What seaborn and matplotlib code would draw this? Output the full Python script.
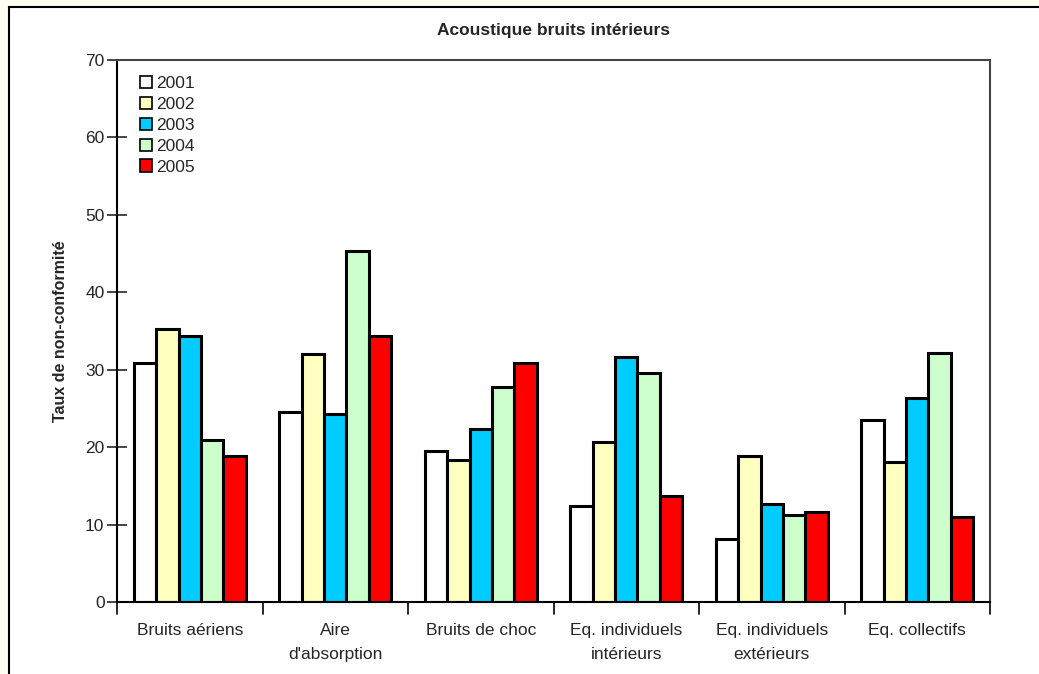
import matplotlib
matplotlib.use("Agg")
import matplotlib.pyplot as plt
import matplotlib.patches as mpatches
import seaborn as sns
import pandas as pd
import numpy as np

categories = ["Bruits aériens", "Aire\nd'absorption", "Bruits de choc",
              "Eq. individuels\nintérieurs", "Eq. individuels\nextérieurs", "Eq. collectifs"]
years = ["2001", "2002", "2003", "2004", "2005"]
v2001 = [30.9, 24.5, 19.5, 12.4, 8.1, 23.5]
v2002 = [35.3, 32.0, 18.3, 20.7, 18.9, 18.1]
v2003 = [34.3, 24.3, 22.3, 31.6, 12.7, 26.4]
v2004 = [20.9, 45.3, 27.8, 29.6, 11.2, 32.2]
v2005 = [18.9, 34.3, 30.9, 13.7, 11.6, 11.0]
colors = ["#FFFFFF", "#FFFFC0", "#00CCFF", "#CCFFCC", "#FF0000"]

rows = []
for y, vals in zip(years, [v2001, v2002, v2003, v2004, v2005]):
    for c, v in zip(categories, vals):
        rows.append({"cat": c, "year": y, "val": v})
df = pd.DataFrame(rows)

sns.set_style("white")
plt.rcParams['font.family'] = ['Liberation Sans', 'DejaVu Sans']

fig = plt.figure(figsize=(10.39, 6.74), dpi=100, facecolor="#FFFEF2")
# outer white frame
frame = mpatches.Rectangle((9/1039, -0.01), 1.02, 1 - 7/674 + 0.01, transform=fig.transFigure,
                           facecolor="white", edgecolor="black", linewidth=1.5, zorder=-10)
fig.patches.append(frame)

ax = fig.add_axes([117/1039, 1 - 602/674, (990-117)/1039, (602-60)/674])
ax.set_zorder(5)
ax.set_facecolor("white")
sns.barplot(data=df, x="cat", y="val", hue="year", hue_order=years, order=categories,
            palette=colors, saturation=1, edgecolor="black", linewidth=2.2,
            width=0.77, ax=ax)

ax.set_ylim(0, 70)
ax.set_xlim(-0.5, len(categories) - 0.5)
ax.set_yticks(np.arange(0, 71, 10))
ax.tick_params(axis="y", direction="inout", length=14, width=1.2, labelsize=12.5, pad=2, left=True)
ax.set_xticks(np.arange(len(categories)))
ax.set_xticklabels(categories, fontsize=12.5, linespacing=1.75)
ax.tick_params(axis="x", length=0, pad=15)
# boundary ticks between categories
for b in np.arange(-0.5, len(categories), 1.0):
    ax.plot([b, b], [0, -1.6], color="black", lw=1.2, clip_on=False)

for s in ["left", "bottom"]:
    ax.spines[s].set_color("black")
    ax.spines[s].set_linewidth(1.5)
for s in ["top", "right"]:
    ax.spines[s].set_color("#444444")
    ax.spines[s].set_linewidth(1.5)

ax.set_xlabel("")
ax.set_ylabel("Taux de non-conformité", fontsize=11.5, fontweight="bold", labelpad=12)
ax.set_title("Acoustique bruits intérieurs", fontsize=12.5, fontweight="bold", pad=18)

leg = ax.legend(loc="upper left", bbox_to_anchor=(0.012, 0.993), frameon=False, fontsize=12.5,
                handlelength=0.7, handleheight=0.7, handletextpad=0.25, labelspacing=0.33,
                borderaxespad=0.3)
for h in leg.legend_handles:
    h.set_edgecolor("black")
    h.set_linewidth(1.2)

fig.savefig("out.png", dpi=100, facecolor=fig.get_facecolor())
